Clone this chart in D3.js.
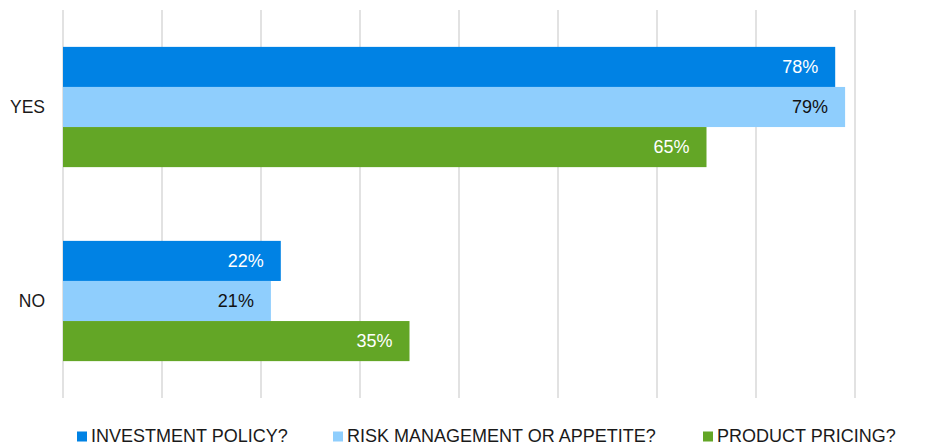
<!DOCTYPE html>
<html>
<head>
<meta charset="utf-8">
<script src="https://cdn.jsdelivr.net/npm/d3@7"></script>
<style>
  html, body { margin: 0; padding: 0; background: #fff; }
  svg { display: block; font-family: "Liberation Sans", Arial, sans-serif; }
</style>
</head>
<body>
<svg id="chart" width="945" height="444"></svg>
<script>
// Answers grouped by response
const categories = ["YES", "NO"];
const seriesNames = ["INVESTMENT POLICY?", "RISK MANAGEMENT OR APPETITE?", "PRODUCT PRICING?"];
const investmentPolicy = [78, 22];
const riskManagement = [79, 21];
const productPricing = [65, 35];
const gridTicks = [0, 10, 20, 30, 40, 50, 60, 70, 80];

const colors = ["#0082E4", "#8FCEFD", "#63A626"];
const labelColors = ["#ffffff", "#111111", "#ffffff"];
const seriesValues = [investmentPolicy, riskManagement, productPricing];

const svg = d3.select("#chart");
const plot = { left: 63, top: 10, bottom: 398 };

const x = d3.scaleLinear().domain([0, 10]).range([plot.left, plot.left + 99]);
const y = d3.scaleBand().domain(categories).range([plot.top, plot.bottom]).paddingInner(0).paddingOuter(0);
const ySeries = d3.scaleBand().domain(d3.range(seriesNames.length))
  .range([0, y.bandwidth()]).paddingOuter(0.92).paddingInner(0);

// Vertical gridlines
svg.append("g").selectAll("line").data(gridTicks).join("line")
  .attr("x1", d => x(d)).attr("x2", d => x(d))
  .attr("y1", plot.top).attr("y2", plot.bottom)
  .attr("stroke", "#d9d9d9").attr("stroke-width", 1.5);

// Category labels
svg.append("g").selectAll("text").data(categories).join("text")
  .attr("x", 45)
  .attr("y", d => y(d) + y.bandwidth() / 2)
  .attr("text-anchor", "end")
  .attr("dominant-baseline", "central")
  .attr("font-size", 17.5)
  .attr("fill", "#1a1a1a")
  .text(d => d);

// Bars
const rows = [];
seriesValues.forEach((vals, s) => {
  vals.forEach((v, c) => rows.push({ s, c, v }));
});

const bars = svg.append("g");
bars.selectAll("rect").data(rows).join("rect")
  .attr("x", x(0))
  .attr("y", d => y(categories[d.c]) + ySeries(d.s))
  .attr("width", d => x(d.v) - x(0))
  .attr("height", ySeries.bandwidth())
  .attr("fill", d => colors[d.s]);

bars.selectAll("text").data(rows).join("text")
  .attr("x", d => x(d.v) - 17)
  .attr("y", d => y(categories[d.c]) + ySeries(d.s) + ySeries.bandwidth() / 2)
  .attr("text-anchor", "end")
  .attr("dominant-baseline", "central")
  .attr("font-size", 18)
  .attr("fill", d => labelColors[d.s])
  .text(d => d.v + "%");

// Legend
const legendX = [77, 333, 703];
const legend = svg.append("g").selectAll("g").data(seriesNames).join("g")
  .attr("transform", (d, i) => `translate(${legendX[i]},0)`);
legend.append("rect")
  .attr("x", 0).attr("y", 431.5).attr("width", 10).attr("height", 10)
  .attr("fill", (d, i) => colors[i]);
legend.append("text")
  .attr("x", 14).attr("y", 441.5)
  .attr("font-size", 18)
  .attr("fill", "#1a1a1a")
  .text(d => d);
</script>
</body>
</html>
